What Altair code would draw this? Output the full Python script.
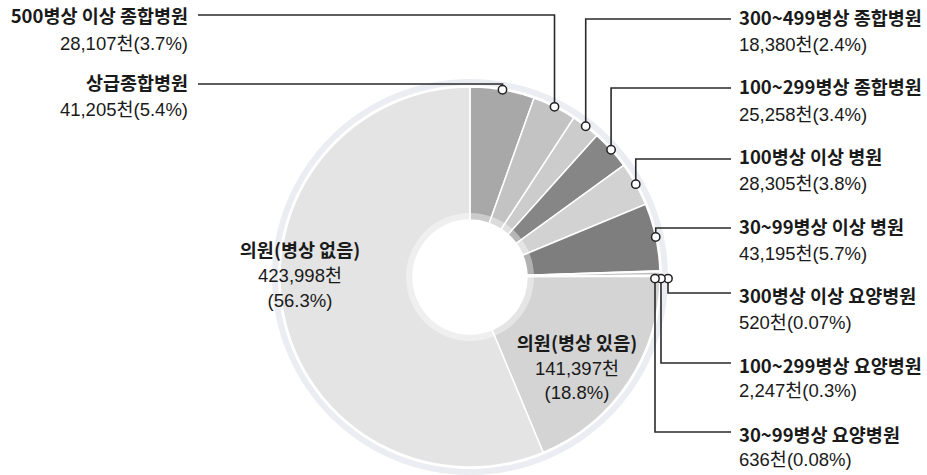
import altair as alt
import pandas as pd
import numpy as np

# ---- data ----
names = ["상급종합병원", "500병상 이상 종합병원", "300~499병상 종합병원", "100~299병상 종합병원",
         "100병상 이상 병원", "30~99병상 이상 병원", "300병상 이상 요양병원", "100~299병상 요양병원",
         "30~99병상 요양병원", "의원(병상 있음)", "의원(병상 없음)"]
values = [41205, 28107, 18380, 25258, 28305, 43195, 520, 2247, 636, 141397, 423998]
value_text = ["41,205천", "28,107천", "18,380천", "25,258천", "28,305천", "43,195천",
              "520천", "2,247천", "636천", "141,397천", "423,998천"]
pct_text = ["5.4%", "3.7%", "2.4%", "3.4%", "3.8%", "5.7%", "0.07%", "0.3%", "0.08%", "18.8%", "56.3%"]
colors = ["#a7a8a7", "#c2c3c2", "#cbcccb", "#868686", "#d2d2d2", "#7e7e7e",
          "#9a9a9a", "#c0c0c0", "#9a9a9a", "#d4d4d4", "#e4e4e4"]

# ---- layout ----
W, H = 927, 475
CX, CY = 470, 277
R_OUT, R_IN = 190, 57
FONT_B = "Noto Sans CJK KR"
FONT_R = "Liberation Sans, Noto Sans CJK KR"
FS = 18.5

# callouts for first 9 slices: side, text x, first-line y, second-line y, leader y, dot offsets
side = ["L", "L", "R", "R", "R", "R", "R", "R", "R"]
text_x = [188, 188, 739, 739, 739, 739, 739, 739, 739]
line1_y = [84, 17, 19, 88, 158, 228, 297, 367, 436]
line2_y = [110, 44, 45, 115, 184, 254, 323, 391, 460]
leader_y = [84, 15, 19, 88, 159, 228, 293, 363, 432]
dot_dr = [0, 0, 0, 0, 0, 0, 8, 1, -5]
dot_da = [0, 0, 0, 0, 0, 0, 0.038, 0.027, 0.015]
LEFT_END, RIGHT_END = 198, 731

# inside labels for 의원
inside_x = [577, 300]
inside_y = [[344, 369, 393], [251, 276, 301]]

total = float(sum(values))
cum = np.cumsum(values)
mid = (cum - np.array(values) / 2.0) / total * 2 * np.pi

slices = pd.DataFrame({"name": names, "value": values, "order": list(range(len(names)))})

# dots and leader lines
dot_rows, line_rows = [], []
for i in range(9):
    a = mid[i] + dot_da[i]
    r = R_OUT + dot_dr[i]
    dx = CX + r * np.sin(a)
    dy = CY - r * np.cos(a)
    dot_rows.append({"x": dx, "y": dy})
    end_x = LEFT_END if side[i] == "L" else RIGHT_END
    pts = [(dx, dy), (dx, leader_y[i]), (end_x, leader_y[i])]
    for k, (px, py) in enumerate(pts):
        line_rows.append({"g": i, "k": k, "x": px, "y": py})
dots = pd.DataFrame(dot_rows)
lines = pd.DataFrame(line_rows)

text_rows = []
for i in range(9):
    al = "right" if side[i] == "L" else "left"
    text_rows.append({"x": text_x[i], "y": line1_y[i], "t": names[i], "w": "bold", "a": al})
    text_rows.append({"x": text_x[i], "y": line2_y[i], "t": f"{value_text[i]}({pct_text[i]})", "w": "normal", "a": al})
for j, i in enumerate([9, 10]):
    ys = inside_y[j]
    text_rows.append({"x": inside_x[j], "y": ys[0], "t": names[i], "w": "bold", "a": "center"})
    text_rows.append({"x": inside_x[j], "y": ys[1], "t": value_text[i], "w": "normal", "a": "center"})
    text_rows.append({"x": inside_x[j], "y": ys[2], "t": f"({pct_text[i]})", "w": "normal", "a": "center"})
texts = pd.DataFrame(text_rows)

xs = alt.Scale(domain=[0, W], range=[0, W])
ys_ = alt.Scale(domain=[0, H], range=[0, H])
FULL = 2 * np.pi

ring = alt.Chart(pd.DataFrame({"v": [1]})).mark_arc(
    radius=198, radius2=192, theta=0, theta2=FULL, color="#ecedf2"
).encode(x=alt.value(CX), y=alt.value(CY))

pie = alt.Chart(slices).mark_arc(
    radius=R_OUT, radius2=R_IN, stroke="white", strokeWidth=1.5
).encode(
    theta=alt.Theta("value:Q", stack=True),
    order=alt.Order("order:Q"),
    color=alt.Color("name:N", scale=alt.Scale(domain=names, range=colors), legend=None),
    x=alt.value(CX), y=alt.value(CY),
)

inner = alt.Chart(pd.DataFrame({"v": [1]})).mark_arc(
    radius=64, radius2=R_IN, theta=0, theta2=FULL, color="white", opacity=0.4
).encode(x=alt.value(CX), y=alt.value(CY))

leaders = alt.Chart(lines).mark_line(color="#2a2a2a", strokeWidth=1.6).encode(
    x=alt.X("x:Q", scale=xs, axis=None),
    y=alt.Y("y:Q", scale=ys_, axis=None),
    detail="g:N",
    order="k:Q",
)

points = alt.Chart(dots).mark_point(
    filled=True, fill="white", stroke="#222222", strokeWidth=1.5, size=70, shape="circle", opacity=1
).encode(x=alt.X("x:Q", scale=xs, axis=None), y=alt.Y("y:Q", scale=ys_, axis=None))

text_layers = []
for w in ["bold", "normal"]:
    for a in ["left", "right", "center"]:
        sub = texts[(texts.w == w) & (texts.a == a)]
        if len(sub) == 0:
            continue
        text_layers.append(
            alt.Chart(sub).mark_text(
                font=FONT_B if w == "bold" else FONT_R, fontSize=FS, fontWeight=w,
                align=a, baseline="middle", color="#1a1a1a"
            ).encode(
                x=alt.X("x:Q", scale=xs, axis=None),
                y=alt.Y("y:Q", scale=ys_, axis=None),
                text="t:N",
            )
        )

chart = alt.layer(ring, pie, inner, leaders, points, *text_layers).properties(
    width=W, height=H, padding=0, autosize=alt.AutoSizeParams(type="none")
).configure_view(stroke=None).resolve_scale(x="shared", y="shared")

chart.save("out.html", embed_options={"renderer": "svg", "actions": False})
